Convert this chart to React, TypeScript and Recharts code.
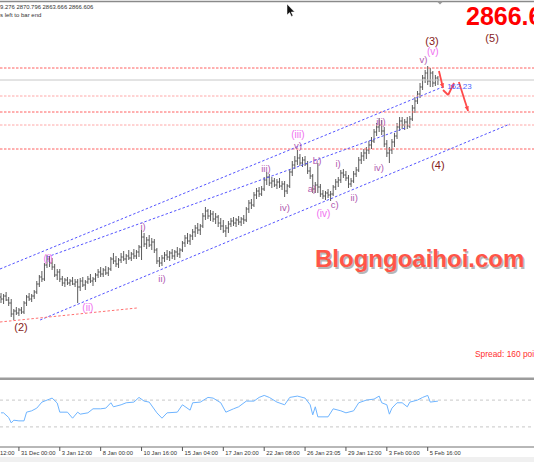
import React from 'react';
import { ComposedChart, Bar, Line, Scatter, XAxis, YAxis, ReferenceLine } from 'recharts';

// ---- OHLC (H4 bars, index 0..171) ----
const opens = [
  2650, 2648, 2651, 2647, 2644, 2633, 2636, 2634, 2637, 2635,
  2644, 2650, 2648, 2651, 2655, 2663, 2670, 2668, 2682, 2688,
  2684, 2680, 2672, 2675, 2668, 2664, 2667, 2664, 2666, 2663,
  2665, 2660, 2666, 2662, 2665, 2668, 2666, 2668, 2672, 2675,
  2673, 2677, 2674, 2678, 2688, 2686, 2683, 2687, 2690, 2688,
  2691, 2689, 2693, 2691, 2695, 2700, 2710, 2703, 2707, 2702,
  2705, 2697, 2686, 2684, 2689, 2692, 2690, 2694, 2691, 2695,
  2693, 2697, 2704, 2709, 2706, 2711, 2715, 2719, 2717, 2721,
  2731, 2736, 2731, 2733, 2728, 2730, 2724, 2721, 2716, 2719,
  2723, 2726, 2724, 2727, 2725, 2728, 2727, 2738, 2744, 2742,
  2752, 2756, 2753, 2758, 2767, 2770, 2764, 2766, 2762, 2765,
  2761, 2763, 2756, 2761, 2775, 2782, 2786, 2789, 2784, 2787,
  2783, 2776, 2771, 2758, 2762, 2760, 2753, 2751, 2754, 2752,
  2753, 2760, 2765, 2767, 2774, 2772, 2769, 2763, 2766, 2773,
  2777, 2787, 2791, 2794, 2797, 2802, 2806, 2815, 2820, 2822,
  2816, 2803, 2794, 2797, 2805, 2811, 2820, 2826, 2822, 2825,
  2821, 2828, 2839, 2846, 2853, 2860, 2869, 2874, 2866, 2874,
  2864, 2869,
];
const highs = [
  2654, 2653, 2655, 2650, 2648, 2638, 2640, 2639, 2640, 2646,
  2652, 2654, 2653, 2657, 2666, 2672, 2676, 2684, 2692, 2691,
  2689, 2683, 2678, 2678, 2671, 2669, 2670, 2668, 2670, 2668,
  2668, 2669, 2670, 2667, 2671, 2673, 2670, 2674, 2678, 2680,
  2679, 2681, 2680, 2690, 2694, 2691, 2689, 2694, 2696, 2693,
  2697, 2695, 2698, 2697, 2702, 2717, 2714, 2710, 2712, 2709,
  2708, 2699, 2690, 2692, 2695, 2697, 2696, 2698, 2697, 2700,
  2699, 2706, 2712, 2714, 2713, 2718, 2722, 2724, 2723, 2734,
  2740, 2738, 2737, 2736, 2734, 2732, 2729, 2727, 2722, 2726,
  2729, 2730, 2729, 2731, 2730, 2732, 2740, 2747, 2748, 2755,
  2759, 2760, 2761, 2770, 2775, 2773, 2770, 2769, 2768, 2769,
  2766, 2766, 2763, 2778, 2786, 2791, 2797, 2793, 2790, 2791,
  2786, 2780, 2773, 2765, 2784, 2763, 2757, 2756, 2758, 2756,
  2762, 2768, 2770, 2777, 2778, 2776, 2772, 2769, 2776, 2780,
  2790, 2795, 2798, 2800, 2806, 2810, 2818, 2824, 2829, 2827,
  2820, 2807, 2800, 2808, 2814, 2824, 2830, 2830, 2828, 2830,
  2831, 2842, 2850, 2856, 2864, 2872, 2877, 2881, 2879, 2876,
  2872, 2871,
];
const lows = [
  2644, 2643, 2646, 2641, 2630, 2627, 2632, 2631, 2633, 2633,
  2641, 2646, 2645, 2648, 2653, 2660, 2665, 2666, 2679, 2680,
  2677, 2670, 2667, 2665, 2661, 2660, 2662, 2661, 2662, 2660,
  2644, 2656, 2660, 2657, 2663, 2664, 2661, 2665, 2669, 2670,
  2670, 2672, 2671, 2676, 2683, 2680, 2679, 2684, 2686, 2683,
  2687, 2686, 2688, 2688, 2690, 2687, 2700, 2698, 2700, 2697,
  2694, 2683, 2680, 2681, 2685, 2687, 2686, 2688, 2687, 2690,
  2689, 2695, 2700, 2703, 2702, 2707, 2710, 2713, 2712, 2719,
  2727, 2728, 2726, 2725, 2723, 2720, 2717, 2714, 2710, 2714,
  2720, 2721, 2720, 2722, 2721, 2723, 2725, 2734, 2738, 2740,
  2748, 2750, 2751, 2756, 2762, 2761, 2759, 2760, 2758, 2759,
  2757, 2750, 2753, 2759, 2771, 2778, 2782, 2781, 2780, 2781,
  2773, 2768, 2754, 2754, 2754, 2750, 2748, 2747, 2749, 2746,
  2751, 2757, 2760, 2764, 2769, 2766, 2759, 2760, 2764, 2770,
  2775, 2783, 2786, 2788, 2793, 2798, 2804, 2811, 2815, 2812,
  2800, 2790, 2784, 2793, 2800, 2808, 2816, 2818, 2817, 2818,
  2819, 2826, 2834, 2843, 2849, 2857, 2864, 2862, 2860, 2860,
  2861, 2862,
];
const closes = [
  2648, 2651, 2647, 2644, 2633, 2636, 2634, 2637, 2635, 2644,
  2650, 2648, 2651, 2655, 2663, 2670, 2668, 2682, 2688, 2684,
  2680, 2672, 2675, 2668, 2664, 2667, 2664, 2666, 2663, 2665,
  2660, 2666, 2662, 2665, 2668, 2666, 2668, 2672, 2675, 2673,
  2677, 2674, 2678, 2688, 2686, 2683, 2687, 2690, 2688, 2691,
  2689, 2693, 2691, 2695, 2700, 2710, 2703, 2707, 2702, 2705,
  2697, 2686, 2684, 2689, 2692, 2690, 2694, 2691, 2695, 2693,
  2697, 2704, 2709, 2706, 2711, 2715, 2719, 2717, 2721, 2731,
  2736, 2731, 2733, 2728, 2730, 2724, 2721, 2716, 2719, 2723,
  2726, 2724, 2727, 2725, 2728, 2727, 2738, 2744, 2742, 2752,
  2756, 2753, 2758, 2767, 2770, 2764, 2766, 2762, 2765, 2761,
  2763, 2756, 2761, 2775, 2782, 2786, 2789, 2784, 2787, 2783,
  2776, 2771, 2758, 2762, 2760, 2753, 2751, 2754, 2752, 2753,
  2760, 2765, 2767, 2774, 2772, 2769, 2763, 2766, 2773, 2777,
  2787, 2791, 2794, 2797, 2802, 2806, 2815, 2820, 2822, 2816,
  2803, 2794, 2797, 2805, 2811, 2820, 2826, 2822, 2825, 2821,
  2828, 2839, 2846, 2853, 2860, 2869, 2874, 2866, 2874, 2864,
  2869, 2867,
];

// ---- RSI-type oscillator (bar index, value) ----
const rsiIdx = [0, 1, 3, 4, 5, 7, 9, 10, 12, 14, 16, 19, 20, 22, 23, 26, 28, 30, 31, 34, 36, 39, 41, 43, 44, 47, 49, 52, 54, 56, 58, 61, 63, 65, 69, 71, 74, 75, 78, 81, 83, 86, 88, 91, 93, 96, 99, 101, 103, 105, 108, 111, 113, 116, 119, 121, 122, 123, 124, 128, 130, 133, 135, 138, 140, 143, 146, 148, 149, 151, 152, 153, 155, 157, 159, 160, 163, 165, 167, 168, 171];
const rsiVal = [51, 51, 44, 36, 40, 39, 39, 52, 54, 58, 67, 71.5, 73, 65.6, 52, 52, 43, 52, 49, 51, 57, 57, 58, 66, 60, 63, 66, 67, 74, 68.5, 67, 51, 43, 51, 52, 63, 55, 66, 67, 74, 73, 66, 52, 57, 60, 68.5, 68.5, 74, 77, 74, 67, 63, 74, 76, 73, 63, 48, 60, 45, 45, 57, 54, 51, 54, 66, 70, 71.5, 76, 66, 63, 49, 58, 66, 66, 60, 67, 70, 74, 77, 67, 68.5];

// ---- time axis ----
const tickIdx = [-9, 7, 23, 39, 55, 71, 87, 103, 119, 135, 151, 167];
const tickLabels = ['26 Dec 12:00', '31 Dec 00:00', '3 Jan 12:00', '8 Jan 00:00', '10 Jan 16:00', '15 Jan 04:00', '17 Jan 20:00', '22 Jan 08:00', '26 Jan 23:05', '29 Jan 12:00', '3 Feb 00:00', '5 Feb 16:00'];

// ---- horizontal levels ----
const levelPrices = [2879, 2867, 2851, 2835, 2822, 2798];
const levelKinds = ['red', 'bid', 'light', 'red', 'light', 'red'];

// ---- trend / channel lines: [i1, p1, i2, p2] ----
const channelLines = [
  [-0.4, 2678, 173.8, 2861],
  [18.0, 2690, 158.1, 2819],
  [15.3, 2627, 199.2, 2823],
];
const redTrend = [-0.4, 2625, 53.2, 2639];

// ---- projection arrows: [i1, p1, i2, p2, head] ----
const arrowSegs = [
  [171.4, 2876, 173.0, 2859, 1],
  [173.0, 2857, 175.0, 2852, 0],
  [175.0, 2852, 177.3, 2864, 1],
  [179.2, 2865, 182.8, 2836, 1],
];

// ---- wave labels ----
const labelText = ['(2)', '(i)', '(ii)', 'i)', 'ii)', 'iii)', 'iv)', '(iii)', 'v)', 'b)', 'a)', '(iv)', 'c)', 'i)', 'ii)', 'iii)', 'iv)', 'v)', '(v)', '(3)', '(4)', '(5)', '162.23'];
const labelIdx = [7.8, 18.4, 34.0, 55.6, 63.0, 103.7, 111.1, 116.2, 116.2, 123.7, 121.7, 126.2, 130.6, 131.9, 138.2, 148.7, 147.9, 165.3, 169.0, 168.7, 171.0, 192.2, 174.6];
const labelPrice = [2620, 2689, 2640, 2721, 2669, 2779, 2740, 2813, 2802, 2787, 2759, 2734, 2743, 2784, 2750, 2826, 2780, 2888, 2896, 2906, 2782, 2909, 2861];
const labelKind = ['major', 'minorP', 'minorP', 'minute', 'minute', 'minute', 'minute', 'minorP', 'minute', 'minute', 'minute', 'minorP', 'minute', 'minute', 'minute', 'minute', 'minute', 'minute', 'minorP', 'major', 'major', 'major', 'fib'];

const FONT = '"Liberation Sans", Arial, sans-serif';
const W = 534;
const X_DOMAIN: [number, number] = [-0.4, 208.6];

const bars = opens.map((o, i) => ({ i, o, h: highs[i], l: lows[i], c: closes[i] }));
const rsi = rsiIdx.map((i, k) => ({ i, v: rsiVal[k] }));
const labels = labelText.map((t, k) => ({ i: labelIdx[k], p: labelPrice[k], t, kind: labelKind[k] }));

const labelStyle: Record<string, { fill: string; size: number; anchor: string }> = {
  major: { fill: '#861c1c', size: 11, anchor: 'middle' },
  minorP: { fill: '#f070f0', size: 10, anchor: 'middle' },
  minute: { fill: '#b05ab0', size: 9.5, anchor: 'middle' },
  fib: { fill: '#4d66ff', size: 8, anchor: 'start' },
};

const OhlcShape = (props: any) => {
  const { x, y, width, height, payload } = props;
  if (!payload || height == null || isNaN(y)) return null;
  const cx = x + width / 2;
  const span = payload.h - payload.l || 1;
  const yO = y + ((payload.h - payload.o) / span) * height;
  const yC = y + ((payload.h - payload.c) / span) * height;
  const col = '#4a4a4a';
  return (
    <g>
      <line x1={cx} x2={cx} y1={y} y2={y + height} stroke={col} strokeWidth={0.9} />
      <line x1={cx - 1.2} x2={cx} y1={yO} y2={yO} stroke={col} strokeWidth={0.9} />
      <line x1={cx} x2={cx + 1.2} y1={yC} y2={yC} stroke={col} strokeWidth={0.9} />
    </g>
  );
};

const LabelShape = (props: any) => {
  const { cx, cy, payload } = props;
  const st = labelStyle[payload.kind];
  return (
    <text x={cx} y={cy} textAnchor={st.anchor as any} dominantBaseline="central" fontSize={st.size} fill={st.fill} fontFamily={FONT}>
      {payload.t}
    </text>
  );
};

const makeArrowShape = (head: boolean) => (props: any) => {
  const { x1, y1, x2, y2 } = props;
  const col = '#ff4a4a';
  const ang = Math.atan2(y2 - y1, x2 - x1);
  const L = 5;
  const a1 = ang + Math.PI - 0.45;
  const a2 = ang + Math.PI + 0.45;
  return (
    <g>
      <line x1={x1} y1={y1} x2={x2} y2={y2} stroke={col} strokeWidth={1.8} />
      {head && (
        <polygon
          points={`${x2},${y2} ${x2 + L * Math.cos(a1)},${y2 + L * Math.sin(a1)} ${x2 + L * Math.cos(a2)},${y2 + L * Math.sin(a2)}`}
          fill={col}
        />
      )}
    </g>
  );
};

const DateTick = (props: any) => {
  const { x, y, payload } = props;
  const k = tickIdx.indexOf(payload.value);
  return (
    <g>
      <line x1={x} x2={x} y1={y} y2={y + 4} stroke="#555" />
      <text x={x + 2} y={y + 8} fontSize={5.8} fill="#333" fontFamily={FONT}>
        {tickLabels[k]}
      </text>
    </g>
  );
};

export default function App() {
  return (
    <div style={{ position: 'absolute', left: 0, top: 0, width: W, height: 462, overflow: 'hidden', background: '#fff' }}>
      <div style={{ position: 'absolute', left: 0, top: 0 }}>
        <ComposedChart width={W} height={372} data={bars} margin={{ top: 0, right: 0, bottom: 0, left: 0 }}>
          <XAxis hide type="number" dataKey="i" domain={X_DOMAIN} allowDataOverflow />
          <YAxis hide type="number" domain={[2575, 2947]} allowDataOverflow />
          {levelPrices.map((p, k) => (
            <ReferenceLine
              key={'lv' + k}
              y={p}
              stroke={levelKinds[k] === 'bid' ? '#c8c8c8' : levelKinds[k] === 'light' ? '#ffa8a8' : '#ff6060'}
              strokeDasharray={levelKinds[k] === 'bid' ? undefined : '2.5 1.5'}
              strokeWidth={1}
            />
          ))}
          {channelLines.map((s, k) => (
            <ReferenceLine
              key={'ch' + k}
              segment={[{ x: s[0], y: s[1] }, { x: s[2], y: s[3] }]}
              stroke="#5555ff"
              strokeDasharray="2.5 2"
              strokeWidth={1}
            />
          ))}
          <ReferenceLine
            segment={[{ x: redTrend[0], y: redTrend[1] }, { x: redTrend[2], y: redTrend[3] }]}
            stroke="#ff7070"
            strokeDasharray="2.5 2"
            strokeWidth={1}
          />
          <Bar dataKey={(d: any) => [d.l, d.h]} barSize={1} isAnimationActive={false} shape={OhlcShape} />
          {arrowSegs.map((s, k) => (
            <ReferenceLine
              key={'ar' + k}
              segment={[{ x: s[0], y: s[1] }, { x: s[2], y: s[3] }]}
              shape={makeArrowShape(s[4] === 1)}
            />
          ))}
          <Scatter data={labels} dataKey="p" isAnimationActive={false} shape={LabelShape} />
        </ComposedChart>
      </div>
      <div style={{ position: 'absolute', left: 0, top: 372 }}>
        <ComposedChart width={W} height={90} data={rsi} margin={{ top: 8, right: 0, bottom: 0, left: 0 }}>
          <XAxis
            type="number"
            dataKey="i"
            domain={X_DOMAIN}
            allowDataOverflow
            ticks={tickIdx}
            interval={0}
            height={15}
            tickSize={0}
            tickMargin={0}
            tickLine={false}
            axisLine={{ stroke: '#707070' }}
            tick={DateTick}
          />
          <YAxis hide type="number" domain={[0, 100]} />
          <ReferenceLine y={70} stroke="#c8c8c8" strokeDasharray="3 3" />
          <ReferenceLine y={30} stroke="#c8c8c8" strokeDasharray="3 3" />
          <Line dataKey="v" stroke="#6eb4ff" strokeWidth={1} dot={false} isAnimationActive={false} />
        </ComposedChart>
      </div>
      <svg width={W} height={462} style={{ position: 'absolute', left: 0, top: 0, pointerEvents: 'none' }}>
        <line x1={0} x2={W} y1={1.5} y2={1.5} stroke="#8a8a8a" strokeWidth={1.5} />
        <polygon points="437,1.5 443,1.5 440,4.5" fill="#9a9a9a" />
        <path d="M287,4 L287,15 L289.6,12.6 L291.4,16.4 L293,15.7 L291.2,12 L294.6,12 Z" fill="#111" stroke="#fff" strokeWidth={0.5} />
        <text x={0} y={8.5} fontSize={5.9} fill="#333" fontFamily={FONT}>9.276 2870.796 2863.666 2866.606</text>
        <text x={0} y={16.5} fontSize={6} fill="#333" fontFamily={FONT}>s left to bar end</text>
        <text x={466} y={25} fontSize={25} fontWeight="bold" fill="#ff0000" fontFamily={FONT}>2866.6</text>
        <text x={316.5} y={268.5} fontSize={24} fontWeight="bold" fill="#9a9a9a" opacity={0.7} fontFamily={FONT}>Blogngoaihoi.com</text>
        <text x={315} y={267} fontSize={24} fontWeight="bold" fill="#ff5548" fontFamily={FONT}>Blogngoaihoi.com</text>
        <text x={475} y={357} fontSize={8.4} fill="#ff3030" fontFamily={FONT}>Spread: 160 points</text>
        <rect x={0} y={377.5} width={W} height={2.5} fill="#9c9c9c" />
        <rect x={0} y={457} width={W} height={5} fill="#f0f0f0" />
      </svg>
    </div>
  );
}
